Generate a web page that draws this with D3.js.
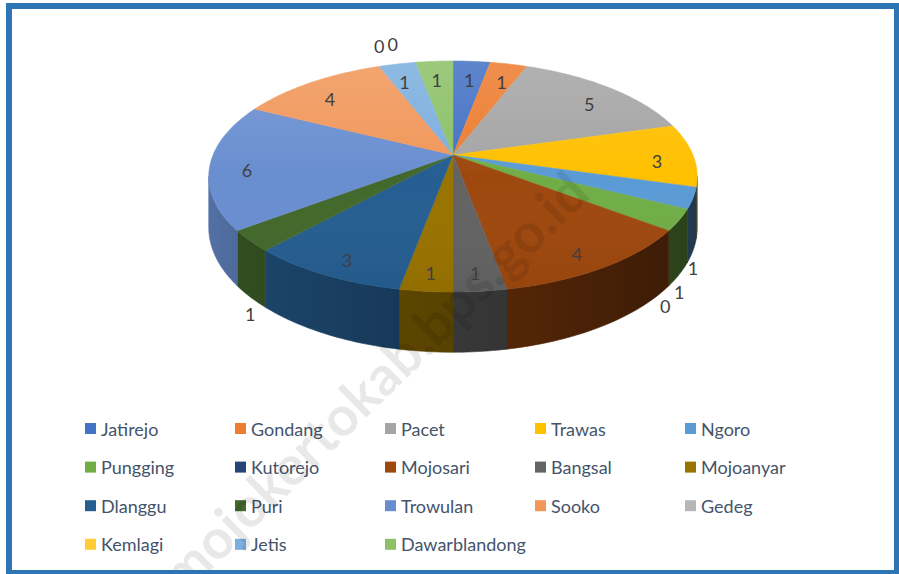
<!DOCTYPE html>
<html>
<head>
<meta charset="utf-8">
<script src="https://cdn.jsdelivr.net/npm/d3@7"></script>
<style>
    body { margin: 0; background: #fff; }
    text { font-family: Lato, "Open Sans", sans-serif; }
</style>
</head>
<body>
<svg id="chart" width="899" height="574"></svg>
<script>
const categories = ["Jatirejo", "Gondang", "Pacet", "Trawas", "Ngoro", "Pungging", "Kutorejo", "Mojosari", "Bangsal",
    "Mojoanyar", "Dlanggu", "Puri", "Trowulan", "Sooko", "Gedeg", "Kemlagi", "Jetis", "Dawarblandong"];
const values = [1, 1, 5, 3, 1, 1, 0, 4, 1, 1, 3, 1, 6, 4, 0, 0, 1, 1];
const colors = ["#4472C4", "#ED7D31", "#A5A5A5", "#FFC000", "#5B9BD5", "#70AD47", "#264478", "#9E480E", "#636363",
    "#997300", "#255E91", "#43682B", "#698ED0", "#F1975A", "#B7B7B7", "#FFCD33", "#7CAFDD", "#8CC168"];

(function () {
    const svg = d3.select("#chart");
    const defs = svg.append("defs");

    // pie geometry (perspective disc)
    const cx = 453, cy = 155, rx = 240, ry = 111.5, D = 5.37, depth = 49;

    const project = function (theta, r, z) {
        const u = r * Math.sin(theta);
        const v = -r * Math.cos(theta);
        const s = D / (D - v);
        return [cx + rx * u * s, cy + ry * v * s + z * depth * s];
    };

    const arcPoints = function (a, b, r, z) {
        const n = Math.max(2, Math.ceil(Math.abs(b - a) / (Math.PI / 180)));
        return d3.range(n + 1).map(i => project(a + (b - a) * i / n, r, z));
    };

    const line = d3.line();
    const shade = function (color, theta) {
        const f = 0.57 - 0.22 * Math.sin(theta);
        const c = d3.rgb(color);
        return d3.rgb(c.r * f, c.g * f, c.b * f).formatHex();
    };

    const arcs = d3.pie().sort(null).value(d => d)(values);
    const thetaL = Math.acos(-1 / D);
    const thetaR = 2 * Math.PI - thetaL;

    const sides = svg.append("g").attr("class", "sides");
    const tops = svg.append("g").attr("class", "tops");

    arcs.forEach((d, i) => {
        if (d.endAngle - d.startAngle <= 0) return;
        // visible outer wall
        const a = Math.max(d.startAngle, thetaL);
        const b = Math.min(d.endAngle, thetaR);
        if (b > a) {
            const pa = project(a, 1, 0), pb = project(b, 1, 0);
            const gid = "side-" + i;
            const g = defs.append("linearGradient")
                .attr("id", gid)
                .attr("gradientUnits", "userSpaceOnUse")
                .attr("x1", pa[0]).attr("y1", 0)
                .attr("x2", pb[0]).attr("y2", 0);
            g.append("stop").attr("offset", 0).attr("stop-color", shade(colors[i], a));
            g.append("stop").attr("offset", 1).attr("stop-color", shade(colors[i], b));
            const pts = arcPoints(a, b, 1, 0).concat(arcPoints(b, a, 1, 1));
            sides.append("path")
                .attr("d", line(pts) + "Z")
                .attr("fill", "url(#" + gid + ")")
                .attr("stroke", "url(#" + gid + ")")
                .attr("stroke-width", 0.6);
        }
        // top face
        const pts = [project(0, 0, 0)].concat(arcPoints(d.startAngle, d.endAngle, 1, 0));
        tops.append("path")
            .attr("d", line(pts) + "Z")
            .attr("fill", colors[i])
            .attr("stroke", colors[i])
            .attr("stroke-width", 0.5);
    });

    // soft light over the top face
    const sheen = defs.append("linearGradient")
        .attr("id", "sheen")
        .attr("x1", 0).attr("y1", 0).attr("x2", 0).attr("y2", 1);
    sheen.append("stop").attr("offset", 0).attr("stop-color", "#fff").attr("stop-opacity", 0.14);
    sheen.append("stop").attr("offset", 0.5).attr("stop-color", "#fff").attr("stop-opacity", 0);
    sheen.append("stop").attr("offset", 1).attr("stop-color", "#000").attr("stop-opacity", 0.05);
    svg.append("path")
        .attr("d", line(arcPoints(0, 2 * Math.PI, 1, 0)) + "Z")
        .attr("fill", "url(#sheen)");

    // data labels
    const labels = svg.append("g").attr("class", "labels");
    const placed = [];
    const overlaps = function (p) {
        return placed.some(q => Math.abs(q[0] - p[0]) < 13 && Math.abs(q[1] - p[1]) < 21);
    };
    const outsidePos = function (theta) {
        if (Math.cos(theta) < 0) {
            const p = project(theta, 1, 1);
            return [p[0], p[1] + 18];
        }
        const p = project(theta, 1, 0);
        return [p[0], p[1] - 20];
    };

    arcs.forEach((d, i) => {
        const mid = (d.startAngle + d.endAngle) / 2;
        const outside = values[i] === 0 || (values[i] <= 1 && Math.abs(Math.sin(mid)) > 0.7);
        let p;
        if (outside) {
            let t = mid;
            p = outsidePos(t);
            while (overlaps(p)) {
                t += Math.PI / 360;
                p = outsidePos(t);
            }
            placed.push(p);
        } else {
            p = project(mid, 0.85, 0);
            p = [p[0], p[1] + 7];
        }
        labels.append("text")
            .attr("x", p[0])
            .attr("y", p[1])
            .attr("dy", "0.35em")
            .attr("text-anchor", "middle")
            .attr("font-size", 18)
            .attr("fill", "#404040")
            .text(values[i]);
    });

    // legend
    const legend = svg.append("g").attr("class", "legend");
    const nCols = 5, colW = 150, rowH = 38.6, lx = 85, ly = 423;
    categories.forEach((name, i) => {
        const gx = lx + (i % nCols) * colW;
        const gy = ly + Math.floor(i / nCols) * rowH;
        legend.append("rect")
            .attr("x", gx).attr("y", gy)
            .attr("width", 11).attr("height", 11)
            .attr("fill", colors[i]);
        legend.append("text")
            .attr("x", gx + 16)
            .attr("y", gy + 12.5)
            .attr("font-size", 18)
            .attr("fill", "#44546A")
            .text(name);
    });

    // watermark
    svg.append("text")
        .attr("transform", "translate(592,196) rotate(-44.5)")
        .attr("text-anchor", "end")
        .attr("font-size", 55)
        .attr("font-weight", "bold")
        .attr("fill", "#000")
        .attr("fill-opacity", 0.09)
        .text("mojokertokab.bps.go.id");

    // frame
    svg.append("rect")
        .attr("x", 9).attr("y", 6)
        .attr("width", 888).attr("height", 567)
        .attr("fill", "none")
        .attr("stroke", "#2E75B6")
        .attr("stroke-width", 6);
})();
</script>
</body>
</html>
